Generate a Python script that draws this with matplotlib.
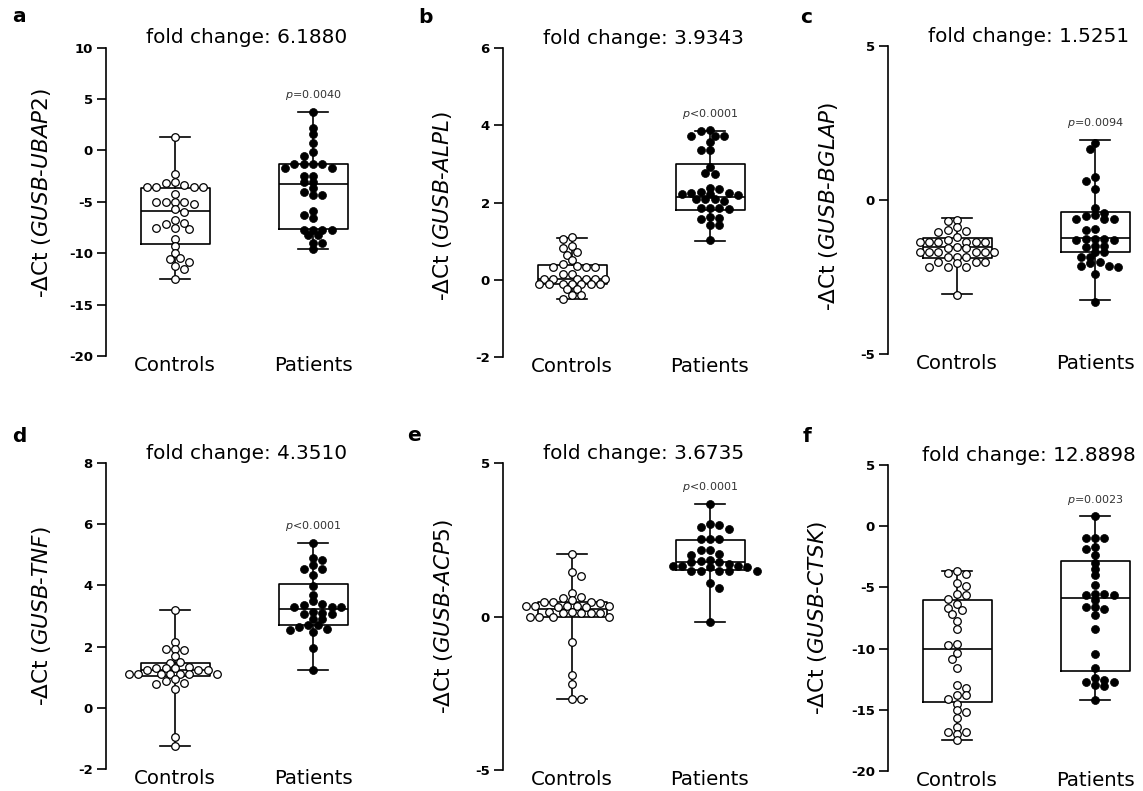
import numpy as np
import matplotlib
matplotlib.use('Agg')
import matplotlib.pyplot as plt

plt.rcParams['font.family'] = ['DejaVu Sans']
plt.rcParams['axes.unicode_minus'] = False

W, H = 1143, 791

# ---- data (-dCt values) ----
a_ctrl = [1.34, -2.33, -3.04, -3.14, -3.36, -3.53, -3.53, -3.53, -3.59, -4.24, -4.99, -4.99,
          -4.99, -4.99, -5.21, -5.73, -5.99, -6.77, -7.09, -7.16, -7.51, -7.51, -7.61, -8.65,
          -9.27, -10.0, -10.5, -10.6, -10.85, -11.25, -11.57, -12.54]
a_pat = [3.77, 2.22, 1.57, 0.69, -0.12, -0.51, -1.35, -1.35, -1.35, -1.35, -1.74, -1.74, -2.45,
         -2.45, -3.04, -3.04, -3.69, -4.01, -4.34, -4.34, -5.89, -6.28, -6.60, -7.74, -7.74,
         -7.74, -7.74, -8.23, -8.23, -8.97, -8.97, -9.56]
b_ctrl = [1.10, 1.05, 0.87, 0.81, 0.72, 0.64, 0.51, 0.42, 0.36, 0.33, 0.33, 0.33, 0.16, 0.14,
          0.03, 0.03, 0.03, 0.03, 0.03, 0.03, -0.10, -0.10, -0.10, -0.10, -0.10, -0.10, -0.10,
          -0.23, -0.25, -0.40, -0.40, -0.51]
b_pat = [3.88, 3.85, 3.73, 3.73, 3.73, 3.56, 3.36, 3.36, 2.91, 2.77, 2.74, 2.38, 2.34, 2.26,
         2.24, 2.24, 2.21, 2.21, 2.19, 2.08, 2.08, 2.08, 2.04, 1.85, 1.85, 1.85, 1.82, 1.63,
         1.59, 1.57, 1.42, 1.42, 1.03]
c_ctrl = [-0.65, -0.68, -0.87, -0.97, -1.00, -1.05, -1.21, -1.30, -1.35, -1.37, -1.37, -1.37,
          -1.37, -1.37, -1.52, -1.57, -1.57, -1.68, -1.70, -1.70, -1.70, -1.70, -1.70, -1.86,
          -1.86, -1.86, -2.00, -2.00, -2.00, -2.06, -2.16, -2.16, -2.16, -3.08]
c_pat = [1.84, 1.65, 0.76, 0.63, 0.36, -0.27, -0.41, -0.49, -0.52, -0.62, -0.62, -0.62, -0.94,
         -0.97, -1.28, -1.28, -1.28, -1.30, -1.30, -1.48, -1.48, -1.52, -1.68, -1.70, -1.86,
         -1.86, -2.00, -2.06, -2.14, -2.14, -2.16, -2.40, -3.30]
d_ctrl = [3.21, 2.16, 1.92, 1.92, 1.88, 1.69, 1.50, 1.47, 1.34, 1.29, 1.29, 1.29, 1.25, 1.25,
          1.25, 1.12, 1.12, 1.12, 1.12, 1.12, 1.09, 1.09, 0.93, 0.88, 0.82, 0.77, 0.61,
          -0.97, -1.24]
d_pat = [5.40, 4.90, 4.82, 4.66, 4.55, 4.55, 4.33, 3.97, 3.70, 3.49, 3.38, 3.35, 3.30, 3.30,
         3.30, 3.14, 3.11, 3.08, 3.06, 2.89, 2.89, 2.70, 2.70, 2.65, 2.59, 2.54, 2.48, 1.97, 1.25]
e_ctrl = [2.03, 1.45, 1.31, 0.75, 0.62, 0.59, 0.53, 0.48, 0.48, 0.48, 0.44, 0.35, 0.35, 0.35,
          0.35, 0.35, 0.31, 0.31, 0.15, 0.15, 0.13, 0.13, 0.13, 0.13, -0.01, -0.01, -0.03,
          -0.03, -0.82, -1.91, -2.21, -2.69, -2.69]
e_pat = [3.66, 3.00, 2.99, 2.90, 2.84, 2.51, 2.51, 2.51, 2.16, 2.16, 2.05, 2.00, 1.83, 1.80,
         1.76, 1.76, 1.72, 1.64, 1.64, 1.64, 1.62, 1.62, 1.49, 1.49, 1.49, 1.49, 1.49, 1.10,
         0.94, -0.17]
f_ctrl = [-3.67, -3.83, -3.94, -4.62, -4.91, -5.56, -5.59, -5.92, -6.38, -6.65, -6.86, -7.19,
          -7.76, -8.43, -9.63, -9.71, -10.38, -10.85, -11.60, -13.00, -13.23, -13.77, -13.82,
          -14.10, -14.50, -15.04, -15.18, -15.67, -16.42, -16.83, -16.83, -16.94, -17.48]
f_pat = [0.80, -0.96, -0.96, -0.96, -1.72, -1.85, -2.39, -2.99, -3.48, -3.97, -4.83, -5.51,
         -5.51, -5.64, -5.64, -6.05, -6.59, -6.59, -6.73, -7.27, -8.43, -10.47, -11.60, -12.42,
         -12.55, -12.69, -12.74, -13.01, -13.09, -14.18]

# box stats: (min, q1, median, q3, max)
a_box_ctrl = (-12.54, -9.10, -5.86, -3.62, 1.34)
a_box_pat = (-9.56, -7.65, -3.30, -1.35, 3.77)
b_box_ctrl = (-0.50, -0.12, 0.03, 0.39, 1.08)
b_box_pat = (1.00, 1.80, 2.15, 3.00, 3.86)
c_box_ctrl = (-3.05, -1.87, -1.53, -1.245, -0.57)
c_box_pat = (-3.25, -1.70, -1.245, -0.38, 1.95)
d_box_ctrl = (-1.24, 1.04, 1.23, 1.45, 3.21)
d_box_pat = (1.25, 2.72, 3.24, 4.06, 5.40)
e_box_ctrl = (-2.68, -0.01, 0.26, 0.48, 2.03)
e_box_pat = (-0.17, 1.51, 1.78, 2.48, 3.66)
f_box_ctrl = (-17.48, -14.39, -10.06, -6.05, -3.67)
f_box_pat = (-14.18, -11.79, -5.86, -2.88, 0.80)

letters = ['a', 'b', 'c', 'd', 'e', 'f']
genes = ['UBAP2', 'ALPL', 'BGLAP', 'TNF', 'ACP5', 'CTSK']
fold_changes = ['6.1880', '3.9343', '1.5251', '4.3510', '3.6735', '12.8898']
p_values = ['=0.0040', '<0.0001', '=0.0094', '<0.0001', '<0.0001', '=0.0023']
yticks = [[10, 5, 0, -5, -10, -15, -20], [6, 4, 2, 0, -2], [5, 0, -5],
          [8, 6, 4, 2, 0, -2], [5, 0, -5], [5, 0, -5, -10, -15, -20]]
groups = ['Controls', 'Patients']

ctrl = [a_ctrl, b_ctrl, c_ctrl, d_ctrl, e_ctrl, f_ctrl]
pat = [a_pat, b_pat, c_pat, d_pat, e_pat, f_pat]
box_ctrl = [a_box_ctrl, b_box_ctrl, c_box_ctrl, d_box_ctrl, e_box_ctrl, f_box_ctrl]
box_pat = [a_box_pat, b_box_pat, c_box_pat, d_box_pat, e_box_pat, f_box_pat]

# layout in pixels: spine x, top, bottom, ylabel offset, ylabel y frac, letter x, letter baseline
layout = [(106, 47.7, 356, 53, 0.53, 12, 22),
          (503, 48, 357, 49, 0.49, 418, 23),
          (888, 46, 354, 48, 0.48, 800, 23),
          (106, 463, 769, 53, 0.50, 12, 442),
          (503, 463, 770, 48, 0.50, 407, 441),
          (888, 465, 771, 59, 0.50, 803, 442)]
AX_W = 276  # two categories, 138 px apart


def swarm_x(ax, xc, vals, step=9.3, rx=8.5, ry=6.0):
    """prism-like scatter: points spread sideways on a half-step grid,
    neighbours kept outside an ellipse (rx, ry in pixels)"""
    pts = ax.transData.transform(np.column_stack([np.full(len(vals), xc), vals]))
    ypix = pts[:, 1]
    ppu = ax.transData.transform([(1, 0)])[0, 0] - ax.transData.transform([(0, 0)])[0, 0]
    cands = [0.0]
    for k in range(1, 30):
        cands += [k * step / 2, -k * step / 2]
    placed = []
    offs = np.zeros(len(vals))
    for n, i in enumerate(np.argsort(-ypix)):
        y = ypix[i]
        sign = 1 if n % 2 else -1
        for c in sorted(cands, key=lambda c: (abs(c), sign * c)):
            if all(((c - px) / rx) ** 2 + ((y - py) / ry) ** 2 >= 0.999 for (px, py) in placed):
                break
        placed.append((c, y))
        offs[i] = c
    return xc + offs / ppu


fig = plt.figure(figsize=(W / 100, H / 100), dpi=100)

for k in range(6):
    left, top, bottom, lab_off, lab_y, lx, ly = layout[k]
    ax = fig.add_axes([left / W, 1 - bottom / H, AX_W / W, (bottom - top) / H])
    ax.set_xlim(0.5, 2.5)
    ax.set_ylim(min(yticks[k]), max(yticks[k]))

    stats = []
    for b in (box_ctrl[k], box_pat[k]):
        stats.append(dict(whislo=b[0], q1=b[1], med=b[2], q3=b[3], whishi=b[4], fliers=[]))
    lp = dict(color='black', linewidth=1.2)
    ax.bxp(stats, positions=[1, 2], widths=0.5, capwidths=0.22, showfliers=False,
           boxprops=lp, whiskerprops=lp, capprops=lp, medianprops=lp)

    xs = swarm_x(ax, 1, ctrl[k])
    ax.scatter(xs, ctrl[k], s=30, facecolor='white', edgecolor='black', linewidth=0.9,
               zorder=3, clip_on=False)
    xs = swarm_x(ax, 2, pat[k])
    ax.scatter(xs, pat[k], s=33, facecolor='black', edgecolor='black', linewidth=0.5,
               zorder=3, clip_on=False)

    for s in ['top', 'right', 'bottom']:
        ax.spines[s].set_visible(False)
    ax.spines['left'].set_linewidth(1.2)
    ax.set_yticks(yticks[k])
    ax.tick_params(axis='y', direction='out', length=6.5, width=1.2, pad=3, labelsize=9.5)
    for t in ax.get_yticklabels():
        t.set_fontweight('bold')
    ax.set_xticks([1, 2], groups)
    ax.tick_params(axis='x', length=0, pad=0, labelsize=14.2)

    ax.set_ylabel(r'-$\Delta$Ct ($\mathit{GUSB}$-$\mathit{' + genes[k] + '}$)', fontsize=15.5)
    ax.yaxis.set_label_coords(-lab_off / AX_W, lab_y)

    ax.annotate('fold change: ' + fold_changes[k], xy=(1.52, 1),
                xycoords=('data', 'axes fraction'), xytext=(0, 3.2),
                textcoords='offset points', ha='center', va='baseline', fontsize=14.4)
    ax.annotate(r'$\mathit{p}$' + p_values[k], xy=(2, box_pat[k][4]), xytext=(0, 10),
                textcoords='offset points', ha='center', va='baseline', fontsize=8,
                color='#333333')

    fig.text(lx / W, 1 - ly / H, letters[k], fontsize=14.5, fontweight='bold', va='baseline')

fig.savefig('out.png', dpi=100)
